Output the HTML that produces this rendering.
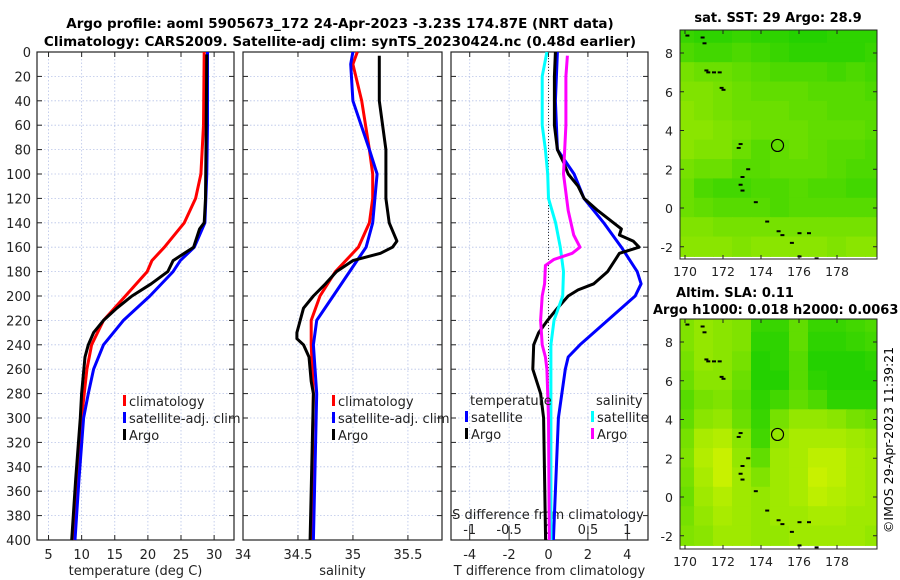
<!DOCTYPE html>
<html><head><meta charset="utf-8">
<style>
body{margin:0;background:#fff;}
svg{display:block;font-family:"DejaVu Sans","Liberation Sans",sans-serif;}
</style></head>
<body>
<svg id="chart" width="900" height="580" viewBox="0 0 900 580" xmlns="http://www.w3.org/2000/svg">
<text x="340" y="28" font-size="13.5" font-weight="bold" text-anchor="middle">Argo profile: aoml 5905673_172 24-Apr-2023 -3.23S 174.87E (NRT data)</text>
<text x="340" y="46" font-size="13.5" font-weight="bold" text-anchor="middle">Climatology: CARS2009. Satellite-adj clim: synTS_20230424.nc (0.48d earlier)</text>
<text x="778" y="22" font-size="13" font-weight="bold" text-anchor="middle">sat. SST: 29 Argo: 28.9</text>
<text x="735" y="297" font-size="13" font-weight="bold" text-anchor="middle">Altim. SLA: 0.11</text>
<text x="653" y="314" font-size="13" font-weight="bold">Argo h1000: 0.018 h2000: 0.0063</text>
<text transform="translate(893,440) rotate(-90)" font-size="12.5" text-anchor="middle">©IMOS 29-Apr-2023 11:39:21</text>
</svg>
<script>
// ---------- DATA ----------
const depthTicks=[0,20,40,60,80,100,120,140,160,180,200,220,240,260,280,300,320,340,360,380,400];
const tempTicks=[5,10,15,20,25,30];
const salTicks=[34,34.5,35,35.5];
const salTickLabels=["34","34.5","35","35.5"];
const tdTicks=[-4,-2,0,2,4];
const sdTicks=[-1,-0.5,0,0.5,1];
const sdTickLabels=["-1","-0.5","0","0.5","1"];

const tArgoD=[2,60,120,140,145,150,160,171,180,190,200,210,220,230,240,250,280,300,350,400];
const tArgoV=[28.9,28.8,28.7,28.5,27.8,27.5,26.9,23.8,23.0,20.5,17.6,15.3,13.3,11.8,11.0,10.5,10.0,9.8,9.1,8.5];
const tClimD=[0,60,100,120,140,160,171,180,200,220,240,260,300,350,400];
const tClimV=[28.5,28.4,28,27.2,25.5,22.5,20.6,19.9,16.6,13.3,11.5,10.8,10.0,9.3,8.7];
const tSatD=[0,60,100,140,160,171,180,200,220,240,260,280,300,350,400];
const tSatV=[29,29,28.9,28.6,27,24.9,23.8,20.3,16.3,13.3,11.8,11.0,10.3,9.6,9.0];

const sArgoD=[3,40,60,80,100,120,140,155,160,165,171,180,190,200,210,220,230,235,240,250,270,280,400];
const sArgoV=[35.24,35.24,35.27,35.3,35.3,35.3,35.33,35.4,35.36,35.25,35.0,34.85,34.75,34.64,34.55,34.52,34.49,34.49,34.55,34.6,34.62,34.64,34.61];
const sClimD=[0,10,40,80,100,120,140,160,180,200,220,240,280,400];
const sClimV=[35.04,35.0,35.08,35.15,35.18,35.18,35.15,35.05,34.84,34.70,34.62,34.62,34.64,34.62];
const sSatD=[0,10,40,80,100,120,140,160,180,200,220,240,280,400];
const sSatV=[35.0,34.98,35.0,35.15,35.22,35.2,35.18,35.12,34.97,34.82,34.67,34.64,34.67,34.64];

const sdSatD=[0,20,60,80,100,120,140,160,180,200,220,240,400];
const sdSatV=[-0.02,-0.08,-0.08,-0.04,-0.01,0,0.09,0.15,0.19,0.18,0.07,0.03,0.03];
const sdArgoD=[3,20,60,100,130,150,160,165,170,175,190,200,220,240,250,260,300,400];
const sdArgoV=[0.24,0.22,0.22,0.19,0.25,0.32,0.4,0.3,0.07,-0.04,-0.05,-0.08,-0.1,-0.08,-0.04,-0.02,0,0.01];
const tdSatD=[0,40,80,100,120,140,160,180,190,200,220,240,250,260,300,400];
const tdSatV=[0.45,0.35,0.45,1.3,1.8,2.8,3.7,4.5,4.7,4.4,3.0,1.6,1.0,0.85,0.5,0.25];
const tdArgoD=[0,20,60,80,90,100,110,120,130,140,145,150,155,160,165,170,180,190,195,200,210,220,230,240,260,280,300,400];
const tdArgoV=[0.35,0.3,0.3,0.45,0.75,1.0,1.5,1.8,2.5,3.3,3.7,3.6,4.3,4.6,3.6,3.4,3.0,2.3,1.5,1.0,0.45,-0.05,-0.5,-0.75,-0.8,-0.4,-0.25,-0.15];

// map grids: rows lat 9..-3 (1 deg), cols lon 169.5..180 (value 0=green,1=yellow)
const sstGrid=[
[0.2,0.15,0.15,0.2,0.15,0.15,0.1,0.1,0.15,0.15,0.15],
[0.3,0.25,0.25,0.3,0.25,0.2,0.15,0.15,0.15,0.15,0.2],
[0.5,0.45,0.45,0.4,0.35,0.3,0.3,0.3,0.25,0.3,0.25],
[0.55,0.55,0.5,0.45,0.4,0.4,0.4,0.35,0.35,0.35,0.3],
[0.6,0.55,0.5,0.45,0.45,0.45,0.4,0.4,0.35,0.35,0.35],
[0.6,0.6,0.55,0.5,0.45,0.45,0.45,0.4,0.4,0.4,0.35],
[0.6,0.55,0.55,0.45,0.35,0.4,0.45,0.4,0.35,0.35,0.3],
[0.5,0.45,0.45,0.35,0.35,0.4,0.4,0.4,0.35,0.3,0.3],
[0.45,0.3,0.25,0.25,0.3,0.3,0.35,0.3,0.3,0.25,0.25],
[0.45,0.4,0.35,0.35,0.35,0.3,0.35,0.35,0.35,0.35,0.35],
[0.55,0.55,0.5,0.5,0.5,0.5,0.5,0.5,0.5,0.5,0.5],
[0.6,0.6,0.6,0.55,0.6,0.6,0.6,0.6,0.55,0.6,0.6]];
const slaGrid=[
[0.55,0.65,0.6,0.55,0.2,0.2,0.4,0.2,0.2,0.25,0.3],
[0.55,0.65,0.6,0.55,0.15,0.15,0.4,0.15,0.15,0.2,0.25],
[0.5,0.65,0.6,0.5,0.1,0.15,0.35,0.1,0.1,0.1,0.15],
[0.45,0.6,0.6,0.45,0.1,0.1,0.35,0.15,0.1,0.1,0.1],
[0.35,0.5,0.55,0.4,0.15,0.25,0.4,0.3,0.15,0.15,0.15],
[0.4,0.6,0.65,0.45,0.2,0.5,0.65,0.65,0.6,0.5,0.45],
[0.5,0.75,0.8,0.6,0.25,0.65,0.75,0.75,0.75,0.7,0.65],
[0.55,0.8,0.9,0.65,0.4,0.7,0.75,0.85,0.85,0.75,0.7],
[0.5,0.75,0.9,0.7,0.55,0.7,0.75,0.9,0.85,0.75,0.7],
[0.45,0.7,0.8,0.7,0.65,0.7,0.75,0.85,0.8,0.75,0.7],
[0.5,0.65,0.75,0.7,0.65,0.7,0.7,0.75,0.75,0.7,0.7],
[0.55,0.6,0.7,0.7,0.65,0.65,0.7,0.7,0.7,0.7,0.65]];
const mapLatTicks=[-2,0,2,4,6,8];
const mapLonTicks=[170,172,174,176,178];
const coastLon=[170.1,170.9,171.0,171.1,171.2,171.5,171.8,171.9,172.0,172.8,172.9,173.0,172.9,173.0,173.3,173.7,174.3,174.9,175.1,175.6,176.0,176.5,176.0,176.9];
const coastLat=[8.9,8.8,8.5,7.1,7.0,7.0,7.0,6.2,6.1,3.1,3.3,1.6,1.2,0.9,2.0,0.3,-0.7,-1.2,-1.4,-1.8,-1.3,-1.3,-2.5,-2.6];
const argoLon=174.87, argoLat=3.23;

// ---------- DRAW ----------
const svg=document.getElementById('chart');
const NS='http://www.w3.org/2000/svg';
function mk(tag,attrs,parent){const e=document.createElementNS(NS,tag);for(const k in attrs)e.setAttribute(k,attrs[k]);(parent||svg).appendChild(e);return e;}
const top0=52,bot0=540;
const yD=d=>top0+(bot0-top0)*d/400;

function panel(name,x0,x1,xmin,xmax,ticks,labels,xlabel,showY){
  const sx=v=>x0+(x1-x0)*(v-xmin)/(xmax-xmin);
  const g=mk('g',{});
  
  
  depthTicks.forEach(d=>{
    const l=mk('line',{x1:x0,x2:x1,y1:yD(d),y2:yD(d),stroke:'#b8c4e8','stroke-width':0.8,'stroke-dasharray':'1.5,2'},g);
    
    
    mk('line',{x1:x0,x2:x0+5,y1:yD(d),y2:yD(d),stroke:'#222'},g);
    mk('line',{x1:x1,x2:x1-5,y1:yD(d),y2:yD(d),stroke:'#222'},g);
    if(showY){const t=mk('text',{x:x0-6,y:yD(d)+5,'font-size':13,'text-anchor':'end',fill:'#222'},g);t.textContent=d;
      
      }
  });
  ticks.forEach((v,i)=>{
    const X=sx(v);
    const l=mk('line',{x1:X,x2:X,y1:top0,y2:bot0,stroke:'#b8c4e8','stroke-width':0.8,'stroke-dasharray':'1.5,2'},g);
    
    
    mk('line',{x1:X,x2:X,y1:bot0,y2:bot0-5,stroke:'#222'},g);
    mk('line',{x1:X,x2:X,y1:top0,y2:top0+5,stroke:'#222'},g);
    const t=mk('text',{x:X,y:bot0+19,'font-size':13,'text-anchor':'middle',fill:'#222'},g);t.textContent=labels[i];
    
    
  });
  const r=mk('rect',{x:x0,y:top0,width:x1-x0,height:bot0-top0,fill:'none',stroke:'#222','stroke-width':1.2},g);
  
  
  const xl=mk('text',{x:(x0+x1)/2,y:bot0+35,'font-size':13,'text-anchor':'middle',fill:'#222'},g);xl.textContent=xlabel;
  
  
  return sx;
}
function line(sx,D,V,color,name){
  const p=mk('polyline',{points:D.map((d,i)=>sx(V[i]).toFixed(1)+','+yD(d).toFixed(1)).join(' '),fill:'none',stroke:color,'stroke-width':3,'stroke-linejoin':'round'});
  
  
}
function legend(x,y,label,color,name){
  const g=mk('g',{});
  
  
  mk('rect',{x:x,y:y-11,width:3,height:11,fill:color},g);
  const t=mk('text',{x:x+6,y:y,'font-size':13,fill:'#222'},g);t.textContent=label;
}
function txt(x,y,s,name,anchor){const t=mk('text',{x:x,y:y,'font-size':13,fill:'#222','text-anchor':anchor||'start'});t.textContent=s;
  
  }

// panel 1
const sxT=panel('temperature-panel',37,234,3.26,33.0,tempTicks,tempTicks.map(String),'temperature (deg C)',true);
line(sxT,tClimD,tClimV,'#f00','temp-climatology-line');
line(sxT,tSatD,tSatV,'#00f','temp-satellite-line');
line(sxT,tArgoD,tArgoV,'#000','temp-argo-line');
legend(123,406,'climatology','#f00','legend-climatology');
legend(123,423,'satellite-adj. clim','#00f','legend-satellite');
legend(123,440,'Argo','#000','legend-argo');

// panel 2
const sxS=panel('salinity-panel',243,442,34,35.81,salTicks,salTickLabels,'salinity',false);
line(sxS,sClimD,sClimV,'#f00','sal-climatology-line');
line(sxS,sSatD,sSatV,'#00f','sal-satellite-line');
line(sxS,sArgoD,sArgoV,'#000','sal-argo-line');
legend(332,406,'climatology','#f00','legend-sal-climatology');
legend(332,423,'satellite-adj. clim','#00f','legend-sal-satellite');
legend(332,440,'Argo','#000','legend-sal-argo');

// panel 3
const sxTD=panel('difference-panel',451,648,-4.95,5.05,tdTicks,tdTicks.map(String),'T difference from climatology',false);
const sxSD=v=>sxTD(v*4);
const zl=mk('line',{x1:sxTD(0),x2:sxTD(0),y1:top0,y2:bot0,stroke:'#333','stroke-width':1,'stroke-dasharray':'1,2'});


sdTicks.forEach((v,i)=>{
  const X=sxSD(v);
  mk('line',{x1:X,x2:X,y1:bot0-14,y2:bot0-5,stroke:'#222'});
  txt(X,bot0-6,sdTickLabels[i],'s-diff-tick-label','middle');
});
txt(548,bot0-21,'S difference from climatology','s-diff-axis-title','middle');
line(sxTD,tdSatD,tdSatV,'#00f','tdiff-satellite-line');
line(sxTD,tdArgoD,tdArgoV,'#000','tdiff-argo-line');
line(sxSD,sdSatD,sdSatV,'#0ff','sdiff-satellite-line');
line(sxSD,sdArgoD,sdArgoV,'#f0f','sdiff-argo-line');
txt(470,405,'temperature','legend-title-temperature');
txt(596,405,'salinity','legend-title-salinity');
legend(465,422,'satellite','#00f','legend-tdiff-satellite');
legend(465,439,'Argo','#000','legend-tdiff-argo');
legend(591,422,'satellite','#0ff','legend-sdiff-satellite');
legend(591,439,'Argo','#f0f','legend-sdiff-argo');

// maps
function colorFor(v){
  const r=Math.round(15+205*v), g=Math.round(205+40*v), b=0;
  return 'rgb('+r+','+g+','+b+')';
}
function drawMap(name,grid,y0,y1,lat8y,lat0y){
  const x0=680,x1=877;
  const sx=lon=>685+(lon-170)*19;
  const ppd=(lat0y-lat8y)/8;
  const sy=lat=>lat0y-lat*ppd;
  const g=mk('g',{});
  
  
  const cp=mk('clipPath',{id:name+'-clip'},g);
  mk('rect',{x:x0,y:y0,width:x1-x0,height:y1-y0},cp);
  const cg=mk('g',{'clip-path':'url(#'+name+'-clip)'},g);
  grid.forEach((row,ri)=>row.forEach((v,ci)=>{
    const lat=9.5-ri, lon=169.5+ci;
    const c=mk('rect',{x:sx(lon)-0.5,y:sy(lat)-0.5,width:19+1,height:ppd+1,fill:colorFor(v)},cg);
    
    
  }));
  coastLon.forEach((lo,i)=>{
    const d=mk('rect',{x:sx(lo)-1.5,y:sy(coastLat[i])-1,width:4,height:2,fill:'#000'},cg);
    
    
  });
  const c=mk('circle',{cx:sx(argoLon),cy:sy(argoLat),r:6,fill:'none',stroke:'#000','stroke-width':1.2},g);
  
  
  mk('rect',{x:x0,y:y0,width:x1-x0,height:y1-y0,fill:'none',stroke:'#222'},g);
  mapLatTicks.forEach(l=>{
    const Y=sy(l);
    mk('line',{x1:x0,x2:x0+4,y1:Y,y2:Y,stroke:'#222'},g);
    mk('line',{x1:x1,x2:x1-4,y1:Y,y2:Y,stroke:'#222'},g);
    const t=mk('text',{x:x0-7,y:Y+5,'font-size':12.5,'text-anchor':'end',fill:'#222'},g);t.textContent=l;
  });
  mapLonTicks.forEach(l=>{
    const X=sx(l);
    mk('line',{x1:X,x2:X,y1:y1,y2:y1-4,stroke:'#222'},g);
    mk('line',{x1:X,x2:X,y1:y0,y2:y0+4,stroke:'#222'},g);
    const t=mk('text',{x:X,y:y1+17,'font-size':12.5,'text-anchor':'middle',fill:'#222'},g);t.textContent=l;
  });
}
drawMap('sst-map',sstGrid,30,259,53,208);
drawMap('sla-map',slaGrid,319,549,342,497);
</script>
</body></html>
